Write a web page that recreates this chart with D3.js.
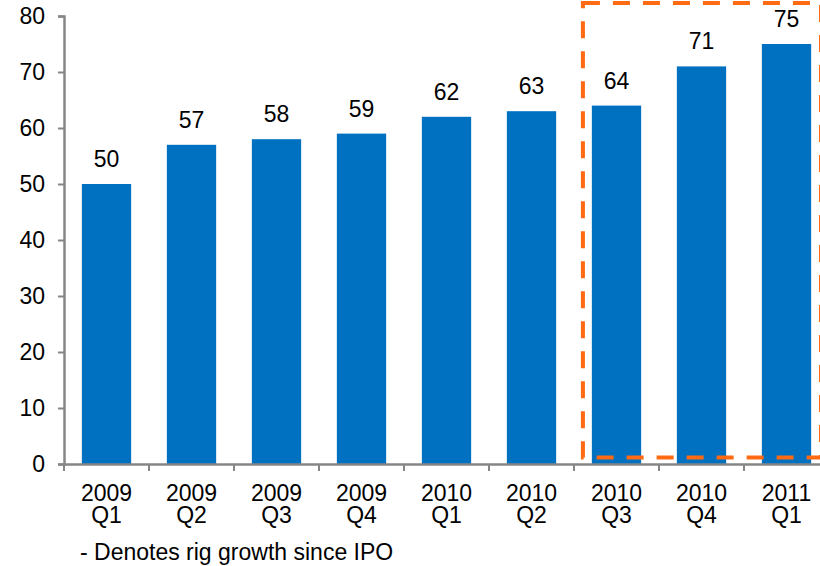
<!DOCTYPE html>
<html>
<head>
<meta charset="utf-8">
<script src="https://cdn.jsdelivr.net/npm/d3@7"></script>
<style>
  html, body { margin: 0; padding: 0; background: #fff; }
  svg { display: block; }
  text { font-family: "Liberation Sans", Arial, sans-serif; fill: #000; }
</style>
</head>
<body>
<svg id="chart" width="820" height="566"></svg>
<script>
// Rig count by quarter
const years    = ["2009", "2009", "2009", "2009", "2010", "2010", "2010", "2010", "2011"];
const quarters = ["Q1", "Q2", "Q3", "Q4", "Q1", "Q2", "Q3", "Q4", "Q1"];
const rigs     = [50, 57, 58, 59, 62, 63, 64, 71, 75];
const yTicks   = [0, 10, 20, 30, 40, 50, 60, 70, 80];
const categories = years.map((y, i) => y + " " + quarters[i]);
// quarters since the IPO, outlined with a dashed box
const sinceIPO = ["2010 Q3", "2010 Q4", "2011 Q1"];
const footnote = "- Denotes rig growth since IPO";

const svg = d3.select("#chart");
const plotLeft = 64, plotRight = 829, plotTop = 16, plotBottom = 464;
const fontSize = "23px";

const x = d3.scaleBand().domain(categories).range([plotLeft, plotRight])
  .paddingInner(0.42).paddingOuter(0.21);
const y = d3.scaleLinear().domain([0, 80]).range([plotBottom, plotTop]);

const axisColor = "#868686";

// bars
svg.append("g").selectAll("rect").data(rigs).join("rect")
  .attr("x", (d, i) => x(categories[i]))
  .attr("y", d => y(d))
  .attr("width", x.bandwidth())
  .attr("height", d => y(0) - y(d))
  .attr("fill", "#0070C0");

// value labels
svg.append("g").selectAll("text").data(rigs).join("text")
  .attr("x", (d, i) => x(categories[i]) + x.bandwidth() / 2)
  .attr("y", d => y(d) - 17)
  .attr("text-anchor", "middle")
  .style("font-size", fontSize)
  .text(d => d);

// y axis
const yAxis = svg.append("g").attr("transform", `translate(${plotLeft},0)`)
  .call(d3.axisLeft(y).tickValues(yTicks).tickSize(6).tickPadding(13));
yAxis.select(".domain").attr("stroke", axisColor).attr("stroke-width", 2.5);
yAxis.selectAll(".tick line").attr("stroke", axisColor).attr("stroke-width", 2);
yAxis.selectAll(".tick text").style("font-size", fontSize).attr("fill", "#000")
  .style("font-family", "'Liberation Sans', Arial, sans-serif");

// x axis: baseline, boundary ticks between quarters, two-line labels
const xAxis = svg.append("g").attr("transform", `translate(0,${plotBottom})`)
  .call(d3.axisBottom(x).tickSize(0).tickFormat(() => ""));
xAxis.select(".domain").attr("stroke", axisColor).attr("stroke-width", 2.5);

const step = x.step();
const bounds = categories.map(c => x(c) - step * x.paddingOuter());
svg.append("g").selectAll("line").data(bounds).join("line")
  .attr("x1", d => d).attr("x2", d => d)
  .attr("y1", plotBottom).attr("y2", plotBottom + 7)
  .attr("stroke", axisColor).attr("stroke-width", 2);

const lbl = svg.append("g").selectAll("text").data(categories).join("text")
  .attr("text-anchor", "middle")
  .attr("x", c => x(c) + x.bandwidth() / 2)
  .style("font-size", fontSize);
lbl.append("tspan").attr("x", c => x(c) + x.bandwidth() / 2).attr("y", plotBottom + 37)
  .text((c, i) => years[i]);
lbl.append("tspan").attr("x", c => x(c) + x.bandwidth() / 2).attr("y", plotBottom + 59)
  .text((c, i) => quarters[i]);

// dashed outline around the post-IPO quarters
const boxL = x(sinceIPO[0]) - step * 0.105;
const boxR = 821;
const boxT = y(80) - 13;
const boxB = y(1.15);
svg.append("rect")
  .attr("x", boxL).attr("y", boxT)
  .attr("width", boxR - boxL).attr("height", boxB - boxT)
  .attr("fill", "none")
  .attr("stroke", "#FF6A13")
  .attr("stroke-width", 4)
  .attr("stroke-dasharray", "17,13");

// footnote
svg.append("text")
  .attr("x", 80).attr("y", 560)
  .style("font-size", fontSize)
  .text(footnote);
</script>
</body>
</html>
